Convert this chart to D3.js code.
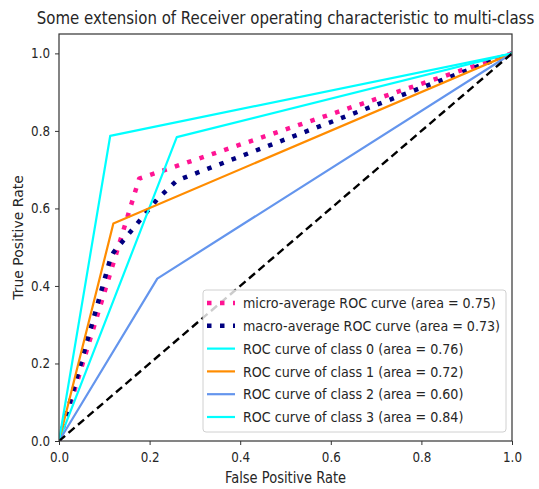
<!DOCTYPE html>
<html>
<head>
<meta charset="utf-8">
<script src="https://cdn.jsdelivr.net/npm/d3@7"></script>
<style>
  body { margin: 0; background: #fff; }
  svg text { font-family: "DejaVu Sans", sans-serif; fill: #262626; }
</style>
</head>
<body>
<div id="chart"></div>
<script>
// ROC curves (fpr / tpr pairs)
const microFpr = [0, 0.177, 1];
const microTpr = [0, 0.677, 1];
const macroFpr = [0, 0.113, 0.12, 0.217, 0.26, 1];
const macroTpr = [0, 0.469, 0.486, 0.624, 0.672, 1];
const class0Fpr = [0, 0.26, 1];
const class0Tpr = [0, 0.784, 1];
const class1Fpr = [0, 0.12, 1];
const class1Tpr = [0, 0.561, 1];
const class2Fpr = [0, 0.217, 1];
const class2Tpr = [0, 0.419, 1];
const class3Fpr = [0, 0.113, 1];
const class3Tpr = [0, 0.787, 1];

const legendLabels = [
  'micro-average ROC curve (area = 0.75)',
  'macro-average ROC curve (area = 0.73)',
  'ROC curve of class 0 (area = 0.76)',
  'ROC curve of class 1 (area = 0.72)',
  'ROC curve of class 2 (area = 0.60)',
  'ROC curve of class 3 (area = 0.84)'
];
const tickValues = [0, 0.2, 0.4, 0.6, 0.8, 1.0];

const W = 539, H = 489;
const margin = { top: 34, right: 27, bottom: 48, left: 59 };
const innerW = W - margin.left - margin.right;
const innerH = H - margin.top - margin.bottom;
// the source picture is a bit squeezed sideways, so text is too
const squeeze = 0.87;

const svg = d3.select('#chart').append('svg')
  .attr('width', W)
  .attr('height', H);

const x = d3.scaleLinear().domain([0, 1]).range([margin.left, margin.left + innerW]);
const y = d3.scaleLinear().domain([0, 1.05]).range([margin.top + innerH, margin.top]);

// clip to the axes box
svg.append('clipPath').attr('id', 'plot-clip')
  .append('rect')
  .attr('x', margin.left).attr('y', margin.top)
  .attr('width', innerW).attr('height', innerH);

const series = [
  { fpr: microFpr, tpr: microTpr, color: 'deeppink', width: 4.5, dash: '4.5 8.5' },
  { fpr: macroFpr, tpr: macroTpr, color: 'navy', width: 4.5, dash: '4.5 8.5' },
  { fpr: class0Fpr, tpr: class0Tpr, color: 'aqua', width: 2.2, dash: null },
  { fpr: class1Fpr, tpr: class1Tpr, color: 'darkorange', width: 2.2, dash: null },
  { fpr: class2Fpr, tpr: class2Tpr, color: 'cornflowerblue', width: 2.2, dash: null },
  { fpr: class3Fpr, tpr: class3Tpr, color: 'aqua', width: 2.2, dash: null }
];

const line = d3.line()
  .x(d => x(d[0]))
  .y(d => y(d[1]));

const plot = svg.append('g').attr('clip-path', 'url(#plot-clip)');

series.forEach(s => {
  plot.append('path')
    .attr('d', line(d3.zip(s.fpr, s.tpr)))
    .attr('fill', 'none')
    .attr('stroke', s.color)
    .attr('stroke-width', s.width)
    .attr('stroke-dasharray', s.dash)
    .attr('stroke-linejoin', 'round');
});

// chance diagonal
plot.append('path')
  .attr('d', line([[0, 0], [1, 1]]))
  .attr('fill', 'none')
  .attr('stroke', 'black')
  .attr('stroke-width', 2.4)
  .attr('stroke-dasharray', '8 4.5');

// axes
const xAxis = svg.append('g')
  .attr('transform', `translate(0,${margin.top + innerH})`)
  .call(d3.axisBottom(x).tickValues(tickValues).tickFormat(d3.format('.1f')).tickSize(4));
const yAxis = svg.append('g')
  .attr('transform', `translate(${margin.left},0)`)
  .call(d3.axisLeft(y).tickValues(tickValues).tickFormat(d3.format('.1f')).tickSize(4));

[xAxis, yAxis].forEach(a => {
  a.select('.domain').remove();
  a.selectAll('line').attr('stroke', '#333').attr('stroke-width', 1);
  a.selectAll('text').attr('font-size', 13.7).style('fill', '#262626');
});
xAxis.selectAll('text')
  .attr('y', null).attr('dy', null)
  .attr('transform', `translate(0,21) scale(${squeeze},1)`);
yAxis.selectAll('text')
  .attr('x', null)
  .attr('transform', `translate(-9,0) scale(${squeeze},1)`);

// frame
svg.append('rect')
  .attr('x', margin.left).attr('y', margin.top)
  .attr('width', innerW).attr('height', innerH)
  .attr('fill', 'none')
  .attr('stroke', '#333')
  .attr('stroke-width', 1.2);

// labels
svg.append('text')
  .attr('transform', `translate(${margin.left + innerW / 2},24) scale(${squeeze},1)`)
  .attr('text-anchor', 'middle')
  .attr('font-size', 17.2)
  .text('Some extension of Receiver operating characteristic to multi-class');

svg.append('text')
  .attr('transform', `translate(${margin.left + innerW / 2},483) scale(${squeeze},1)`)
  .attr('text-anchor', 'middle')
  .attr('font-size', 15)
  .text('False Positive Rate');

svg.append('text')
  .attr('transform', `translate(23,${margin.top + innerH / 2}) rotate(-90)`)
  .attr('text-anchor', 'middle')
  .attr('font-size', 14)
  .text('True Positive Rate');

// legend
const lg = svg.append('g').attr('transform', 'translate(203,290)');
lg.append('rect')
  .attr('width', 303).attr('height', 142)
  .attr('rx', 3)
  .attr('fill', 'white').attr('fill-opacity', 0.8)
  .attr('stroke', '#d0d0d0');

legendLabels.forEach((label, i) => {
  const s = series[i];
  const row = lg.append('g').attr('transform', `translate(0,${13 + i * 22.8})`);
  row.append('line')
    .attr('x1', 4).attr('x2', 32)
    .attr('stroke', s.color)
    .attr('stroke-width', s.width)
    .attr('stroke-dasharray', s.dash);
  row.append('text')
    .attr('transform', `translate(40,0) scale(${squeeze},1)`)
    .attr('dy', '0.35em')
    .attr('font-size', 14.6)
    .text(label);
});
</script>
</body>
</html>
